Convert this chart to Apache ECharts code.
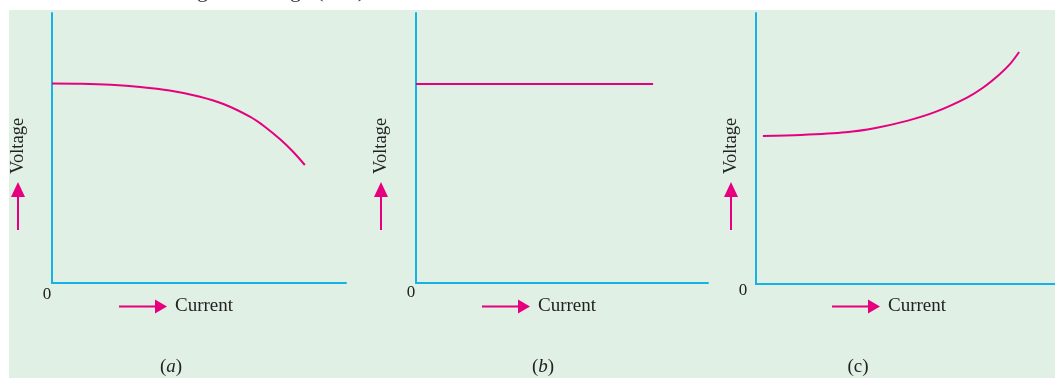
<!DOCTYPE html>
<html>
<head>
<meta charset="utf-8">
<style>
html,body{margin:0;padding:0;background:#fff;}
#c{width:1055px;height:378px;}
</style>
<script src="https://cdn.jsdelivr.net/npm/echarts@6/dist/echarts.min.js"></script>
</head>
<body>
<div id="c"></div>
<script>
// Data (x: current, y: voltage) on a 0..10 scale per panel
const panelA_x = [0, 1, 2, 3, 4, 5, 5.85, 6.73, 7.25, 7.76, 8.2, 8.6];
const panelA_y = [7.39, 7.38, 7.34, 7.26, 7.13, 6.91, 6.62, 6.16, 5.78, 5.32, 4.86, 4.37];
const panelB_x = [0, 8.12];
const panelB_y = [7.37, 7.37];
const panelC_x = [0.23, 1.5, 3, 4, 5.05, 6, 7.06, 7.6, 8.16, 8.5, 8.8];
const panelC_y = [5.46, 5.50, 5.60, 5.76, 6.02, 6.35, 6.88, 7.25, 7.75, 8.12, 8.56];
const captions = ['(a)', '(b)', '(c)'];
const axisLabelY = 'Voltage';
const axisLabelX = 'Current';
const originLabel = '0';

const zip = (xs, ys) => xs.map((x, i) => [x, ys[i]]);
const AX = '#16b1e6', MAG = '#e6007e', BG = '#e1f0e5', TXT = '#222';
const SERIF = '"Liberation Serif","DejaVu Serif",serif';

const grids = [
  {left: 52, top: 13, width: 294, height: 270},
  {left: 416, top: 13, width: 292, height: 270},
  {left: 756, top: 13, width: 299, height: 271}
];
const axisCommon = {
  type: 'value', min: 0, max: 10,
  axisLine: {show: true, onZero: false, lineStyle: {color: AX, width: 2}},
  axisTick: {show: false}, axisLabel: {show: false}, splitLine: {show: false}
};
const xAxis = grids.map((g, i) => Object.assign({gridIndex: i}, axisCommon));
const yAxis = grids.map((g, i) => Object.assign({gridIndex: i}, axisCommon));
const datasets = [zip(panelA_x, panelA_y), zip(panelB_x, panelB_y), zip(panelC_x, panelC_y)];
const series = datasets.map((d, i) => ({
  type: 'line', xAxisIndex: i, yAxisIndex: i, data: d, smooth: 0.3,
  showSymbol: false, lineStyle: {color: MAG, width: 2}, silent: true
}));

// annotations
const graphic = [{type: 'rect', z: -10, shape: {x: 9, y: 10, width: 1046, height: 368}, style: {fill: BG}}];
graphic.push({type: 'text', left: 180, top: -20, style: {text: 'ing the voltage (V–I).', fill: '#333', font: '22px ' + SERIF}});
const vArrowX = [18, 381, 731];
const zeroPos = [[47, 295], [411, 293], [743, 291]];
const hArrow = [119, 482, 832];
const capX = [171, 543, 858];
for (let i = 0; i < 3; i++) {
  const vx = vArrowX[i];
  graphic.push({type: 'text', x: vx, y: 146, rotation: Math.PI / 2,
    style: {text: axisLabelY, fill: TXT, font: '18.5px ' + SERIF, textAlign: 'center', textVerticalAlign: 'middle'}});
  graphic.push({type: 'line', shape: {x1: vx, y1: 230, x2: vx, y2: 195}, style: {stroke: MAG, lineWidth: 2}});
  graphic.push({type: 'polygon', shape: {points: [[vx - 7, 197], [vx + 7, 197], [vx, 182]]}, style: {fill: MAG}});
  const hx = hArrow[i];
  graphic.push({type: 'line', shape: {x1: hx, y1: 306.5, x2: hx + 38, y2: 306.5}, style: {stroke: MAG, lineWidth: 2}});
  graphic.push({type: 'polygon', shape: {points: [[hx + 36, 299.5], [hx + 36, 313.5], [hx + 48, 306.5]]}, style: {fill: MAG}});
  graphic.push({type: 'text', x: hx + 56, y: 306, style: {text: axisLabelX, fill: TXT, font: '19px ' + SERIF, textAlign: 'left', textVerticalAlign: 'middle'}});
  graphic.push({type: 'text', x: zeroPos[i][0], y: zeroPos[i][1], style: {text: originLabel, fill: TXT, font: '17px ' + SERIF, textAlign: 'center', textVerticalAlign: 'middle'}});
  graphic.push({type: 'text', x: capX[i], y: 367, style: {
    text: captions[i].replace(/[a-z]/, m => '{i|' + m + '}'),
    rich: {i: {fontStyle: i === 2 ? 'normal' : 'italic', fontFamily: SERIF, fontSize: 19, fill: TXT}},
    fill: TXT, font: '19px ' + SERIF, textAlign: 'center', textVerticalAlign: 'middle'}});
}

const chart = echarts.init(document.getElementById('c'), null, {renderer: 'canvas'});
chart.setOption({
  backgroundColor: '#fff', animation: false,
  grid: grids, xAxis: xAxis, yAxis: yAxis, series: series, graphic: graphic
});
</script>
</body>
</html>
